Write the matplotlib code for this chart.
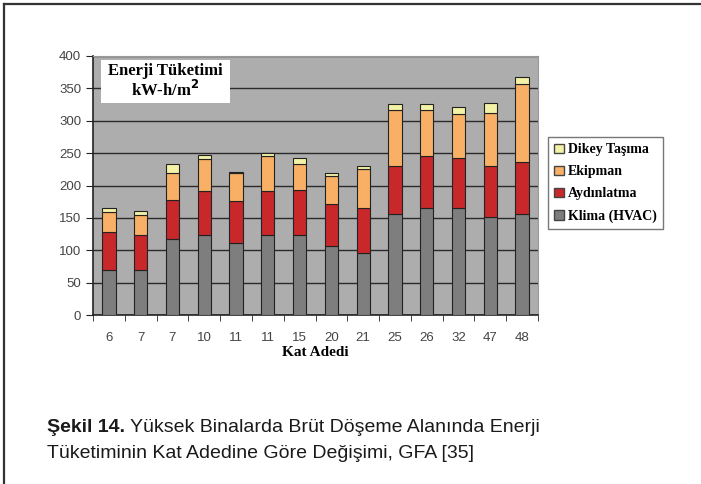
import numpy as np
import matplotlib.pyplot as plt
from matplotlib.patches import Rectangle, Patch
from matplotlib.lines import Line2D

# floor counts of the buildings (x categories)
kat = ['6', '7', '7', '10', '11', '11', '15', '20', '21', '25', '26', '32', '47', '48']

# energy use per component, kW-h/m2
klima = [70, 70, 118, 124, 111, 124, 123, 106, 96, 156, 165, 165, 152, 156]
aydinlatma = [58, 53, 59, 67, 65, 67, 70, 66, 69, 74, 80, 77, 78, 80]
ekipman = [31, 31, 43, 50, 43, 54, 40, 42, 60, 86, 71, 68, 82, 120]
dikey = [6, 6, 13, 6, 2, 5, 9, 5, 5, 10, 10, 11, 15, 12]

series = [('Klima (HVAC)', klima, '#7e7e7e'),
          ('Aydınlatma', aydinlatma, '#c8282a'),
          ('Ekipman', ekipman, '#f8b066'),
          ('Dikey Taşıma', dikey, '#f4f2a6')]

serif = ['Liberation Serif', 'DejaVu Serif']
sans = ['Liberation Sans', 'DejaVu Sans']

fig = plt.figure(figsize=(7.01, 4.84), dpi=100)

# outer frame: only top and left edges
fig.add_artist(Line2D([4/701, 1], [1-4/484, 1-4/484], color='#333333', lw=1.6))
fig.add_artist(Line2D([4/701, 4/701], [0, 1-4/484], color='#333333', lw=1.6))

ax = fig.add_axes([93/701, 1-315/484, (538-93)/701, (315-56)/484])
ax.set_facecolor('#adadad')

x = np.arange(len(kat))
bottom = np.zeros(len(kat))
for name, vals, col in series:
    ax.bar(x, vals, width=0.42, bottom=bottom, color=col, edgecolor='#222222',
           linewidth=0.8, zorder=3, label=name)
    bottom += np.array(vals)

ax.set_ylim(0, 400)
ax.set_xlim(-0.5, len(kat) - 0.5)
ax.set_yticks(np.arange(0, 401, 50))
ax.yaxis.grid(True, color='#2a2a2a', lw=1.0, zorder=1)
ax.set_axisbelow(True)

ax.set_xticks(x)
ax.set_xticklabels(kat)
ax.set_xticks(np.arange(-0.5, len(kat), 1), minor=True)
ax.tick_params(axis='x', which='major', length=0, pad=12, labelsize=9.5,
               labelcolor='#444444')
ax.tick_params(axis='x', which='minor', length=4, direction='out', color='#222222')
ax.tick_params(axis='y', length=5, direction='out', labelsize=9.5,
               labelcolor='#444444', color='#222222')
for lab in ax.get_xticklabels() + ax.get_yticklabels():
    lab.set_family(sans)

for s in ['top', 'right']:
    ax.spines[s].set_color('#999999')
for s in ['left', 'bottom']:
    ax.spines[s].set_color('#222222')
    ax.spines[s].set_linewidth(1.2)

ax.set_xlabel('Kat Adedi', family=serif, fontweight='bold', fontsize=11,
              labelpad=2)

# white label box in the upper left corner
ax.add_patch(Rectangle((101/701, 1-103/484), 129/701, 43/484,
                       transform=fig.transFigure, facecolor='white',
                       edgecolor='none', zorder=4))
fig.text(165/701, 1-71/484, 'Enerji Tüketimi', family=serif, fontweight='bold',
         fontsize=12, ha='center', va='center', zorder=5)
fig.text(165/701, 1-90/484, 'kW-h/m$^{\\mathbf{2}}$', family=serif,
         fontweight='bold', fontsize=12, ha='center', va='center', zorder=5)

handles = [Patch(facecolor=col, edgecolor='#444444', label=name)
           for name, vals, col in series[::-1]]
leg = fig.legend(handles=handles, loc='upper left',
                 bbox_to_anchor=(548/701, 1-137/484), frameon=True,
                 fancybox=False, edgecolor='#555555', borderpad=0.45,
                 handlelength=0.7, handleheight=0.7, handletextpad=0.3,
                 borderaxespad=0, labelspacing=0.65,
                 prop={'family': serif, 'weight': 'bold', 'size': 10})
leg.get_frame().set_linewidth(1.0)

# caption below the chart
cap1 = fig.text(47/701, 1-427/484, 'Şekil 14.', family=sans, fontweight='bold',
                fontsize=14, va='center', color='#1a1a1a')
fig.canvas.draw()
ext = cap1.get_window_extent()
fig.text((ext.x1 + 5)/701, 1-427/484,
         'Yüksek Binalarda Brüt Döşeme Alanında Enerji',
         family=sans, fontsize=14, va='center', color='#1a1a1a')
fig.text(47/701, 1-453/484, 'Tüketiminin Kat Adedine Göre Değişimi, GFA [35]',
         family=sans, fontsize=14, va='center', color='#1a1a1a')

fig.savefig('out.png', dpi=100)
